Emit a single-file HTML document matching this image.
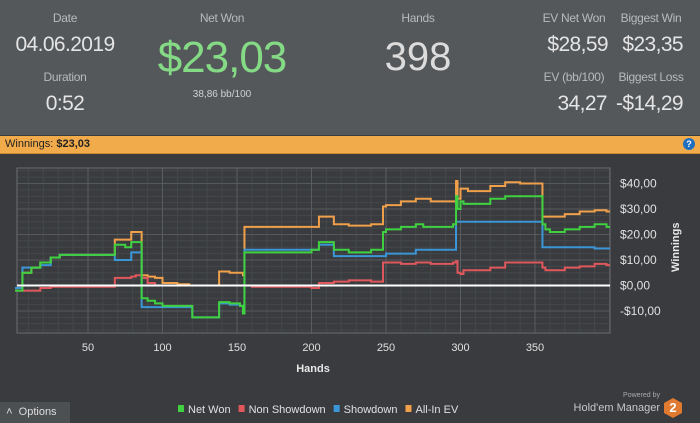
<!DOCTYPE html>
<html><head><meta charset="utf-8"><style>
body{margin:0;width:700px;height:423px;overflow:hidden;background:#393b3e;font-family:"Liberation Sans",sans-serif;position:relative}
.hdr{position:absolute;left:0;top:0;width:700px;height:135px;background:#55585b}
.t{position:absolute;color:#c4c6c8;text-align:center;white-space:nowrap}
.lab{font-size:12px;color:#b8babc;letter-spacing:-0.3px}
.v{font-size:21px;color:#e4e4e4;letter-spacing:-0.6px}
#bar{position:absolute;left:0;top:136px;width:700px;height:17px;background:#f2ab4b;border-bottom:1px solid #c98a30}
#chart{position:absolute;left:0;top:154px}
</style></head><body>
<div class="hdr">
<div class="t lab" style="left:25px;top:11px;width:80px">Date</div>
<div class="t v" style="left:5px;top:33px;width:120px">04.06.2019</div>
<div class="t lab" style="left:25px;top:70px;width:80px">Duration</div>
<div class="t v" style="left:25px;top:92px;width:80px">0:52</div>
<div class="t lab" style="left:182px;top:11px;width:80px">Net Won</div>
<div class="t" style="left:142px;top:33px;width:160px;font-size:44px;color:#85db85;letter-spacing:-1px">$23,03</div>
<div class="t" style="left:172px;top:89px;width:100px;font-size:10px;color:#d0d0d0">38,86 bb/100</div>
<div class="t lab" style="left:378px;top:11px;width:80px">Hands</div>
<div class="t" style="left:358px;top:35px;width:120px;font-size:40px;color:#dcdcdc">398</div>
<div class="t lab" style="left:534px;top:11px;width:80px">EV Net Won</div>
<div class="t v" style="left:528px;top:33px;width:80px;text-align:right">$28,59</div>
<div class="t lab" style="left:611px;top:11px;width:80px">Biggest Win</div>
<div class="t v" style="left:603px;top:33px;width:80px;text-align:right">$23,35</div>
<div class="t lab" style="left:534px;top:70px;width:80px">EV (bb/100)</div>
<div class="t v" style="left:527px;top:92px;width:80px;text-align:right">34,27</div>
<div class="t lab" style="left:611px;top:70px;width:80px">Biggest Loss</div>
<div class="t v" style="left:603px;top:92px;width:80px;text-align:right">-$14,29</div>
</div>
<div id="bar">
<span style="position:absolute;left:5px;top:2px;font-size:11px;color:#222">Winnings: <b>$23,03</b></span>
<span style="position:absolute;left:683px;top:2px;width:12px;height:12px;border-radius:50%;background:#1e6fc0;color:#fff;font-size:9px;font-weight:bold;text-align:center;line-height:12px">?</span>
</div>
<svg id="chart" width="700" height="269"></svg>
<script>
const hands=[1,4,6,8,12,18,25,31,45,60,66,68,75,79,82,84,86,90,95,100,110,118,120,130,138,145,150,152,154,155,160,170,180,190,200,205,215,225,232,240,245,248,250,260,270,275,280,290,295,297,298,300,302,305,315,320,330,340,350,355,357,360,370,380,390,398];
const netWon=[-2,-2,5,5,7,9,11,12,12,12,12,16,15,17,17,17,-5,-6,-7,-8,-8,-8,-12.5,-12.5,-6.5,-7,-7,-8,-11,13,13,13,13,13,14,17,14,13,13,14,14,21,22,23,24,23,23,23,24,35,30,33,32,32,32,34,35,35,35,24,22,21,22,23,24,23];
const showdown=[-1,-1,7,7,7,8,11,12,12,12,12,10,10,13,13,13,-8.5,-8.5,-8.5,-8.5,-8.5,-8.5,-12.5,-12.5,-7,-7.5,-7.5,-8,-11,14,14,14,14,14,14,16,11.5,11.5,11.5,11.5,11.5,11.5,12.5,12.5,14,14,14,14,14,25,25,25,25,25,25,25,25,25,25,15,15,15,15,15,14.5,14.5];
const nonShowdown=[-2,-2,-2,-2,-2,-1,-0.5,-0.5,-0.5,-0.5,-0.5,3,3,3.5,4,4,3,1,0,0,0,0,0,0,0,0,0,0,0,0,-0.5,-0.5,-0.5,-0.5,-1,1,1.5,2,2,1.5,1.5,9,9,8.5,9,9,8.5,8.5,9,9.5,5,4.5,6,6,6,7,9,9,9,7,6,6,7,7.5,8.5,8];
const allInEV=[-1,-1,5,5,7,9,11,12,12,12,12,18,18,21,21,21,4,3.5,3,1,0.5,0,0,0,5.5,5,5,5,4,23,23,23,23,23,23,27,24,23.5,23.5,24,24,31,31.5,33,34,34,33,33,33,41,34,38,38,37,37,39,40.5,40,40,27,27,27,28,29,29.5,29];
const xTicks=[50,100,150,200,250,300,350];
const yTicks=[-10,0,10,20,30,40];
const yTickLabels=["-$10,00","$0,00","$10,00","$20,00","$30,00","$40,00"];
const legendNames=["Net Won","Non Showdown","Showdown","All-In EV"];
const legendColors=["#3fd13f","#e0585c","#3a96d6","#f0a04a"];

const NS="http://www.w3.org/2000/svg",svg=document.getElementById('chart');
const L=17,R=610,T=14,B=179;
const xS=h=>13.5+1.49*h, yS=v=>131.5-2.55*v;
function mk(t,a){const e=document.createElementNS(NS,t);for(const k in a)e.setAttribute(k,a[k]);svg.appendChild(e);return e;}
for(let h=10;h<=400;h+=10){const g=mk('line',{x1:xS(h),x2:xS(h),y1:T,y2:B,stroke:'#45484b','stroke-width':1});}
for(let v=-17.5;v<=47.5;v+=2.5){if(yS(v)<T||yS(v)>B)continue;const g=mk('line',{x1:L,x2:R,y1:yS(v),y2:yS(v),stroke:v%10===0?'#56595c':'#45484b','stroke-width':1});}
xTicks.forEach(h=>{const g=mk('line',{x1:xS(h),x2:xS(h),y1:T,y2:B,stroke:'#5a5d60','stroke-width':1});
const t=mk('text',{x:xS(h),y:B+18,fill:'#e0e0e0','font-size':11,'text-anchor':'middle'});t.textContent=h;});
const fr=mk('rect',{x:L,y:T,width:R-L,height:B-T,fill:'none',stroke:'#6a6d70'});
yTicks.forEach((v,i)=>{const t=mk('text',{x:R+10,y:yS(v)+4,fill:'#e0e0e0','font-size':12});t.textContent=yTickLabels[i];});
const yt=mk('text',{x:0,y:0,fill:'#e8e8e8','font-size':11,'font-weight':'bold','text-anchor':'middle',transform:`translate(679,${yS(15)}) rotate(-90)`});yt.textContent='Winnings';
const xt=mk('text',{x:313,y:218,fill:'#e8e8e8','font-size':11,'font-weight':'bold','text-anchor':'middle'});xt.textContent='Hands';
function series(vals,color,name){let d='';vals.forEach((v,i)=>{const x=xS(hands[i]),y=yS(v);if(i===0)d+=`M${x},${y}`;else d+=`H${x}V${y}`;});d+=`H${R}`;
const p=mk('path',{d,fill:'none',stroke:color,'stroke-width':2});}
series(allInEV,legendColors[3],'all-in-ev-line');
series(nonShowdown,legendColors[1],'non-showdown-line');
series(showdown,legendColors[2],'showdown-line');
series(netWon,legendColors[0],'net-won-line');
const z=mk('line',{x1:L,x2:R,y1:yS(0),y2:yS(0),stroke:'#ffffff','stroke-width':2});
let lx=178;legendNames.forEach((n,i)=>{const r=mk('rect',{x:lx,y:251,width:6,height:7,fill:legendColors[i]});
const t=mk('text',{x:lx+10,y:259,fill:'#e0e0e0','font-size':11});t.textContent=n;lx+=10+t.getComputedTextLength()+8;});
</script>
<div style="position:absolute;left:0;top:402px;width:70px;height:21px;background:#4d5053;color:#ddd;font-size:11px;line-height:21px">&nbsp;&nbsp;˄&nbsp;&nbsp;Options</div>
<div style="position:absolute;left:560px;top:392px;width:100px;text-align:right;font-size:7px;color:#aaa">Powered by</div>
<div style="position:absolute;left:540px;top:402px;width:120px;text-align:right;font-size:11px;color:#c8c8c8">Hold'em Manager</div>
<div style="position:absolute;left:664px;top:398px;width:18px;height:20px;background:#e07a30;clip-path:polygon(50% 0,100% 25%,100% 75%,50% 100%,0 75%,0 25%);color:#fff;font-weight:bold;font-size:13px;text-align:center;line-height:20px">2</div>
</body></html>
